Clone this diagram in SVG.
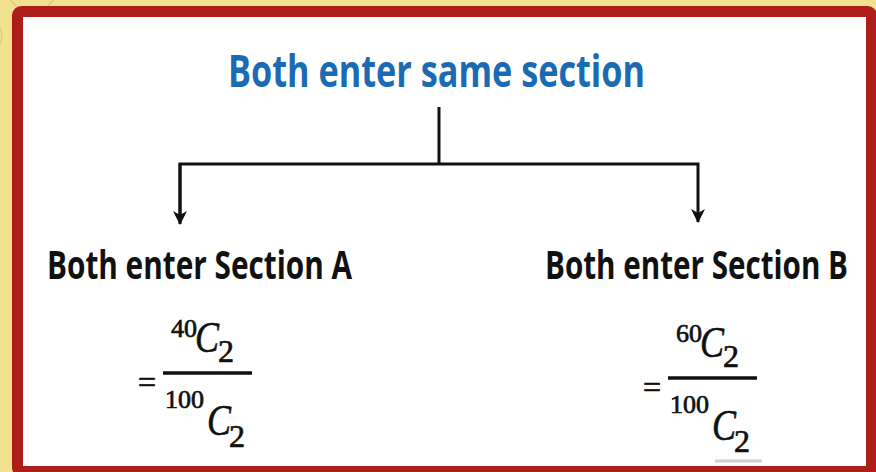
<svg xmlns="http://www.w3.org/2000/svg" width="876" height="472" viewBox="0 0 876 472">
<defs>
<style>
.title{font-family:"Open Sans","Noto Sans",sans-serif;font-weight:700;fill:#1A6AB4;font-size:44px}
.sec{font-family:"Open Sans","Noto Sans",sans-serif;font-weight:700;fill:#111;font-size:40px}
.num{font-family:"Liberation Serif",serif;fill:#111;stroke:#111;stroke-width:0.7}
.var{font-family:"Liberation Serif",serif;font-style:italic;fill:#111;stroke:#111;stroke-width:0.6}
.ln{stroke:#111;stroke-width:3;fill:none}
</style>
<marker id="ah" markerWidth="16" markerHeight="14" refX="13" refY="7" orient="auto" markerUnits="userSpaceOnUse">
<path d="M0,0 L14,7 L0,14 L4,7 Z" fill="#111"/>
</marker>
</defs>
<rect x="0" y="0" width="876" height="472" fill="#F2E290"/>
<circle cx="32" cy="-12" r="24" fill="none" stroke="#DCCB78" stroke-width="1.5"/>
<circle cx="-14" cy="36" r="16" fill="none" stroke="#DCCB78" stroke-width="1.5"/>
<rect x="17.5" y="11.5" width="854" height="460" rx="4" fill="#FFFFFF" stroke="#AD1D1A" stroke-width="11"/>
<g id="connectors">
<path class="ln" d="M439,107 V164"/>
<path class="ln" d="M180,222 V164 H698 V222" marker-end="url(#ah)"/>
<path class="ln" d="M180,164 V224" marker-end="url(#ah)"/>
</g>
<g id="root">
<text class="title" x="228" y="87" textLength="417" lengthAdjust="spacingAndGlyphs">Both enter same section</text>
</g>
<g id="sectionA">
<text class="sec" x="47" y="279" textLength="305" lengthAdjust="spacingAndGlyphs">Both enter Section A</text>
<g id="fracA">
<text class="num" x="138" y="393" font-size="32" stroke-width="0.3">=</text>
<line x1="163" y1="373" x2="252" y2="373" stroke="#111" stroke-width="3.5"/>
<text class="num" x="171" y="337" font-size="26">40</text>
<text class="var" x="195" y="352" font-size="44" textLength="24" lengthAdjust="spacingAndGlyphs">C</text>
<text class="num" x="218" y="362" font-size="32">2</text>
<text class="num" x="165" y="408" font-size="26">100</text>
<text class="var" x="207" y="435" font-size="44" textLength="24" lengthAdjust="spacingAndGlyphs">C</text>
<text class="num" x="229" y="447" font-size="32">2</text>
</g>
</g>
<g id="sectionB">
<text class="sec" x="545" y="279" textLength="303" lengthAdjust="spacingAndGlyphs">Both enter Section B</text>
<g id="fracB" transform="translate(505,5)">
<text class="num" x="138" y="393" font-size="32" stroke-width="0.3">=</text>
<line x1="163" y1="373" x2="252" y2="373" stroke="#111" stroke-width="3.5"/>
<text class="num" x="171" y="337" font-size="26">60</text>
<text class="var" x="195" y="352" font-size="44" textLength="24" lengthAdjust="spacingAndGlyphs">C</text>
<text class="num" x="218" y="362" font-size="32">2</text>
<text class="num" x="165" y="408" font-size="26">100</text>
<text class="var" x="207" y="435" font-size="44" textLength="24" lengthAdjust="spacingAndGlyphs">C</text>
<text class="num" x="229" y="447" font-size="32">2</text>
</g>
<line x1="715" y1="461" x2="762" y2="461" stroke="#D0D0D0" stroke-width="3"/>
</g>
</svg>
